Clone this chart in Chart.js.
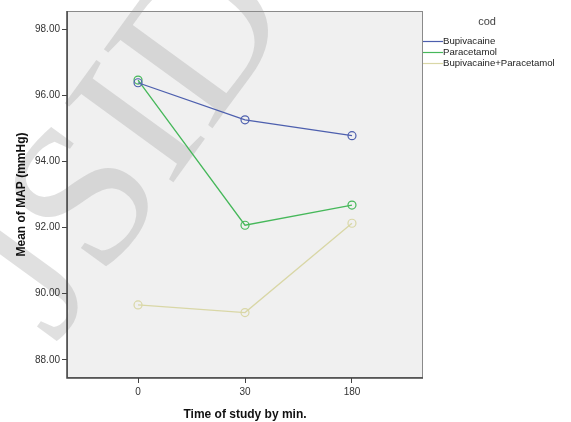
<!DOCTYPE html>
<html>
<head>
<meta charset="utf-8">
<script src="https://cdn.jsdelivr.net/npm/chart.js@4"></script>
<style>
  html, body { margin: 0; padding: 0; background: #ffffff; }
  #wrap { width: 571px; height: 422px; }
</style>
</head>
<body>
<div id="wrap"><canvas id="mapChart" width="571" height="422"></canvas></div>
<script>
// 시간 범주 (x축 눈금)
const timeLabels = ['0', '30', '180'];
// 그룹별 평균 MAP 값
const bupivacaine = [96.38, 95.26, 94.78];
const paracetamol = [96.46, 92.07, 92.68];
const combined = [89.66, 89.43, 92.13];
const yTicks = [88, 90, 92, 94, 96, 98];
const seriesNames = ['Bupivacaine', 'Paracetamol', 'Bupivacaine+Paracetamol'];
const seriesColors = ['#4d5fae', '#46b85a', '#d9d7a6'];

const toPoints = arr => arr.map((v, i) => ({ x: i, y: v }));

// 플롯 영역 배경 + 워터마크
const backdrop = {
    id: 'backdrop',
    beforeDraw(chart) {
        const { ctx, chartArea: a } = chart;
        ctx.save();
        ctx.fillStyle = '#f0f0f0';
        ctx.fillRect(a.left, a.top, a.right - a.left, a.bottom - a.top);
        // 흐린 워터마크 글자
        ctx.translate(55, 345);
        ctx.rotate(-54 * Math.PI / 180);
        ctx.fillStyle = 'rgba(160,160,160,0.32)';
        ctx.font = '205px "Liberation Serif"';
        ctx.textBaseline = 'alphabetic';
        ctx.fillText('JSID', 0, 0);
        ctx.restore();
    },
    afterDraw(chart) {
        const { ctx, chartArea: a } = chart;
        ctx.save();
        // 플롯 테두리
        ctx.strokeStyle = '#8a8a8a';
        ctx.lineWidth = 1;
        ctx.strokeRect(a.left + 0.5, a.top + 0.5, a.right - a.left - 1, a.bottom - a.top - 1);
        ctx.strokeStyle = '#444';
        ctx.lineWidth = 1.5;
        ctx.beginPath();
        ctx.moveTo(a.left, a.top);
        ctx.lineTo(a.left, a.bottom);
        ctx.lineTo(a.right, a.bottom);
        ctx.stroke();
        // 범례
        ctx.font = '11px "Liberation Sans"';
        ctx.fillStyle = '#444';
        ctx.textAlign = 'center';
        ctx.textBaseline = 'middle';
        ctx.fillText('cod', 487, 22);
        ctx.textAlign = 'left';
        ctx.font = '9.6px "Liberation Sans"';
        seriesNames.forEach((name, i) => {
            const y = 41.5 + i * 11;
            ctx.strokeStyle = seriesColors[i];
            ctx.lineWidth = 1.2;
            ctx.beginPath();
            ctx.moveTo(423, y);
            ctx.lineTo(443, y);
            ctx.stroke();
            ctx.fillStyle = '#222';
            ctx.fillText(name, 443, y);
        });
        ctx.restore();
    }
};

const makeSet = (label, data, color) => ({
    label: label,
    data: toPoints(data),
    borderColor: color,
    backgroundColor: 'rgba(0,0,0,0)',
    borderWidth: 1.3,
    pointStyle: 'circle',
    pointRadius: 4,
    pointBorderWidth: 1.2,
    pointBorderColor: color,
    pointBackgroundColor: 'rgba(0,0,0,0)',
    tension: 0
});

new Chart(document.getElementById('mapChart'), {
    type: 'line',
    data: {
        datasets: [
            makeSet(seriesNames[0], bupivacaine, seriesColors[0]),
            makeSet(seriesNames[1], paracetamol, seriesColors[1]),
            makeSet(seriesNames[2], combined, seriesColors[2])
        ]
    },
    options: {
        responsive: false,
        animation: false,
        layout: { padding: { left: 0, top: 11, right: 148, bottom: 0 } },
        plugins: {
            legend: { display: false },
            tooltip: { enabled: false }
        },
        scales: {
            x: {
                type: 'linear',
                min: -0.664,
                max: 2.664,
                afterBuildTicks: s => { s.ticks = timeLabels.map((_, i) => ({ value: i })); },
                afterFit: s => { s.height = 44; },
                ticks: {
                    callback: v => timeLabels[v],
                    color: '#333',
                    font: { family: 'Liberation Sans', size: 10 },
                    padding: 3,
                    maxRotation: 0
                },
                grid: { drawOnChartArea: false, drawTicks: true, tickLength: 5, color: '#444' },
                border: { display: false },
                title: {
                    display: true,
                    text: 'Time of study by min.',
                    color: '#111',
                    font: { family: 'Liberation Sans', size: 12, weight: 'bold' },
                    padding: { top: 2, bottom: 0 }
                }
            },
            y: {
                min: 87.45,
                max: 98.55,
                afterBuildTicks: s => { s.ticks = yTicks.map(v => ({ value: v })); },
                afterFit: s => { s.width = 67; },
                ticks: {
                    callback: v => v.toFixed(2),
                    color: '#333',
                    font: { family: 'Liberation Sans', size: 10 },
                    padding: 2
                },
                grid: { drawOnChartArea: false, drawTicks: true, tickLength: 5, color: '#444' },
                border: { display: false },
                title: {
                    display: true,
                    text: 'Mean of MAP (mmHg)',
                    color: '#111',
                    font: { family: 'Liberation Sans', size: 12, weight: 'bold' },
                    padding: { top: 14, bottom: 0 }
                }
            }
        }
    },
    plugins: [backdrop]
});
</script>
</body>
</html>
